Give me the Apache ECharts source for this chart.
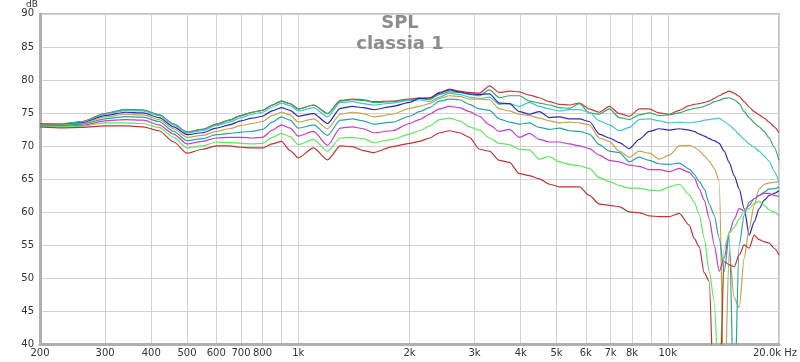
<!DOCTYPE html>
<html>
<head>
<meta charset="utf-8">
<script src="https://cdn.jsdelivr.net/npm/echarts@6/dist/echarts.min.js"></script>
<style>
  html, body { margin: 0; padding: 0; background: #ffffff; }
  #chart { width: 800px; height: 362px; }
</style>
</head>
<body>
<div id="chart"></div>
<script>
// Frequencies (Hz)
const freqs = [200,230,260,300,340,380,420,460,500,550,600,650,700,750,800,850,900,950,1000,1100,1200,1300,1400,1500,1600,1800,2000,
  2128,2265,2411,2565,2730,2906,3092,3291,3502,3727,3967,4222,4493,4781,5089,5416,5764,6134,6528,6947,7393,7868,8374,8912,9484,10093,10742,11432,
  11793,12166,12551,12948,13357,13780,14215,14665,15128,15607,16100,16609,17134,17676,18235,18811,19406,20000];

// SPL curves (dB)
const curve1 = [73.4,73.3,73.7,74.9,75.5,75.4,74.7,73.3,72.1,72.5,73.3,73.9,74.6,75.1,75.4,76.2,76.8,76.4,75.6,76.2,74.9,76.9,77.1,77.0,76.7,76.8,77.1,
  77.3,77.1,78.1,78.6,78.3,78.1,78.0,79.1,78.1,78.3,78.2,77.7,77.3,76.7,76.3,76.2,76.5,75.6,75.1,76.0,74.9,74.5,75.6,75.6,75.0,74.8,75.4,76.1,
  76.3,76.4,76.6,76.8,77.2,77.6,78.0,78.3,78.0,77.5,76.7,75.9,75.2,74.7,74.2,73.6,72.9,72.0];
const curve2 = [73.4,73.35,73.7,74.9,75.55,75.45,74.75,73.3,72.1,72.5,73.25,73.9,74.6,75.1,75.4,76.2,76.8,76.4,75.6,76.2,74.9,76.8,77.0,76.9,76.6,76.7,77.0,
  77.2,77.0,77.8,78.2,78.1,77.8,77.6,78.5,77.3,77.6,77.6,76.8,76.5,76.2,75.8,75.7,76.4,75.0,74.8,75.6,74.3,74.0,74.7,75.0,74.6,74.7,75.0,75.5,
  75.7,75.8,76.0,76.3,76.7,76.9,77.2,77.3,77.0,76.4,75.2,74.3,73.5,72.9,72.2,71.2,69.8,67.8];
const curve3 = [73.35,73.3,73.6,74.8,75.35,75.3,74.6,73.2,71.95,72.3,73.1,73.6,74.3,74.8,75.1,75.9,76.5,76.1,75.3,75.8,74.4,76.6,76.7,76.4,76.2,76.5,76.9,
  77.0,76.7,77.4,78.0,77.8,77.4,77.2,77.4,76.3,76.4,76.0,76.6,76.0,75.6,75.3,75.5,75.5,75.1,73.8,73.2,72.3,72.8,74.0,74.1,73.8,73.5,73.6,73.5,
  73.6,73.7,73.9,74.0,74.1,74.2,73.7,73.2,72.5,71.7,71.0,70.3,69.8,69.2,68.5,67.7,66.2,64.5];
const curve4 = [73.3,73.25,73.5,74.6,75.1,75.0,74.3,72.9,71.7,72.0,72.7,73.2,73.8,74.2,74.5,75.3,75.8,75.4,74.5,74.9,73.4,75.7,76.0,75.8,75.5,76.0,76.6,
  77.2,77.3,78.0,78.5,78.2,77.9,77.8,77.9,76.5,76.4,75.2,74.8,75.2,74.3,74.4,74.1,74.1,73.7,71.8,71.2,70.5,69.6,71.0,72.2,72.6,72.4,72.6,72.4,
  72.2,71.8,71.5,71.1,70.8,70.4,69.2,67.5,65.5,63.5,60.5,56.5,58.5,60.5,61.8,62.5,62.8,63.2];
const curve5 = [73.25,73.2,73.4,74.4,74.8,74.7,74.0,72.6,71.3,71.6,72.2,72.6,73.1,73.4,73.7,74.6,75.1,74.7,73.6,74.1,72.6,74.8,75.1,74.9,74.4,74.8,75.7,
  76.0,76.4,77.2,77.6,77.5,77.1,77.1,77.0,75.6,75.3,74.8,74.6,74.2,73.8,73.5,73.6,73.5,73.2,71.2,70.7,69.2,68.3,69.2,68.9,68.0,68.6,70.0,70.1,
  69.8,69.3,68.5,67.7,66.6,64.7,30,54,47,45.5,53,57.5,61,63.5,64.2,64.4,64.5,64.6];
const curve6 = [73.2,73.1,73.3,74.1,74.45,74.35,73.7,72.2,70.8,71.1,71.7,71.9,72.1,72.2,72.5,73.6,74.4,73.9,72.7,73.2,71.6,73.9,74.1,73.8,73.3,73.6,74.5,
  75.2,75.8,76.8,77.1,77.0,76.3,75.6,75.4,74.1,73.6,73.3,73.5,72.8,72.5,72.7,72.3,72.2,71.8,70.2,69.2,69.0,67.6,68.3,67.8,67.3,67.2,67.4,66.5,
  65.7,64.6,63.5,61.2,59.5,56.0,51.0,56.5,30,55.0,59.5,61.5,62.0,62.5,63.0,63.5,63.5,63.8];
const curve7 = [73.1,73.0,73.1,73.8,74.0,73.9,73.2,71.8,70.3,70.7,71.2,71.3,71.3,71.2,71.3,72.4,73.2,72.7,71.5,72.2,70.1,72.7,72.9,72.6,72.0,72.3,73.4,
  74.0,74.8,75.6,76.0,75.8,75.2,74.5,73.2,72.2,72.5,71.3,71.9,71.0,70.6,70.6,70.3,70.0,69.6,68.6,67.8,67.6,67.1,66.9,66.4,66.4,66.1,66.6,66.0,
  65.2,63.5,61.8,59.0,55.0,51.0,53.0,56.9,58.9,60.5,60.2,61.0,62.0,62.5,62.8,62.8,62.5,62.3];
const curve8 = [73.0,72.9,73.0,73.5,73.5,73.4,72.8,71.3,69.7,70.0,70.6,70.5,70.4,70.3,70.4,71.3,71.9,71.4,70.2,71.0,69.2,71.2,71.3,71.1,70.5,71.0,71.8,
  72.3,73.0,74.0,74.2,73.8,72.9,72.4,71.2,70.4,70.2,69.5,69.4,68.0,68.4,67.6,67.2,67.0,66.6,65.2,64.6,64.0,63.6,63.6,63.3,63.2,63.8,64.2,62.6,
  61.5,59.6,56.0,51.0,46.5,32,54.5,56.8,57.7,58.9,60.3,60.5,61.3,61.6,61.0,60.3,60.0,59.4];
const curve9 = [72.9,72.75,72.8,73.05,73.05,72.9,72.3,70.6,68.9,69.5,70.0,70.0,69.8,69.7,69.7,70.3,70.7,69.3,68.2,69.7,67.9,70.0,69.9,69.3,69.0,69.9,70.4,
  70.7,71.2,72.0,72.3,72.0,71.3,69.5,69.2,67.8,67.5,65.8,65.5,65.0,64.2,63.8,63.8,63.8,62.5,61.2,61.0,60.8,60.0,59.9,59.4,59.3,59.3,59.8,58.0,
  56.0,54.7,50.8,49.5,30,30,52.5,52.0,51.7,53.5,55.0,54.5,56.5,55.8,55.5,55.3,54.5,53.5];

const curves = [curve1, curve2, curve3, curve4, curve5, curve6, curve7, curve8, curve9];
const colors = ['#c43c3c', '#3aa66c', '#42c6cc', '#2c2cb0', '#c9a052', '#2ca2a2', '#c23fc8', '#60e660', '#bf3535'];

// Axis ticks / labels
const xGridValues = [200,300,400,500,600,700,800,900,1000,2000,3000,4000,5000,6000,7000,8000,9000,10000,20000];
const xLabelValues = [200,300,400,500,600,700,800,1000,2000,3000,4000,5000,6000,7000,8000,10000,20000];
const xLabelText = {200:'200',300:'300',400:'400',500:'500',600:'600',700:'700',800:'800',1000:'1k',2000:'2k',3000:'3k',4000:'4k',5000:'5k',6000:'6k',7000:'7k',8000:'8k',10000:'10k',20000:'{e|20.0k Hz}'};

const chart = echarts.init(document.getElementById('chart'), null, { renderer: 'canvas' });

const series = curves.map((c, i) => ({
  type: 'line',
  name: 'c' + (i + 1),
  data: freqs.map((f, j) => [f, c[j]]),
  showSymbol: false,
  symbol: 'none',
  smooth: 0.25,
  smoothMonotone: 'x',
  clip: true,
  lineStyle: { color: colors[i], width: 1.2 },
  itemStyle: { color: colors[i] },
  z: 3,
  animation: false
}));

const fontFamily = '"DejaVu Sans", sans-serif';

chart.setOption({
  animation: false,
  backgroundColor: '#ffffff',
  title: [
    { text: 'SPL', left: 'center', top: 9, textStyle: { fontFamily: fontFamily, fontSize: 18, fontWeight: 'bold', color: '#8c8c8c' } },
    { text: 'classia 1', left: 'center', top: 30, textStyle: { fontFamily: fontFamily, fontSize: 18, fontWeight: 'bold', color: '#8c8c8c' } }
  ],
  grid: {
    left: 40, right: 20, top: 12, bottom: 18,
    show: true, borderColor: '#c4c4c4', borderWidth: 2, backgroundColor: 'transparent'
  },
  xAxis: {
    type: 'log',
    logBase: 10,
    min: 200,
    max: 20000,
    axisLine: { show: true, onZero: false, lineStyle: { color: '#b0b0b0', width: 3 } },
    axisTick: { show: false, customValues: xGridValues },
    splitLine: { show: true, lineStyle: { color: '#d2d2d2', width: 1 } },
    minorSplitLine: { show: false },
    axisLabel: {
      customValues: xLabelValues,
      formatter: v => xLabelText[Math.round(v)] || '',
      fontFamily: fontFamily, fontSize: 10, color: '#333', margin: 4,
      rich: { e: { fontFamily: fontFamily, fontSize: 10, color: '#333', padding: [0, 8, 0, 0] } }
    }
  },
  yAxis: {
    type: 'value',
    min: 40, max: 90, interval: 5,
    name: 'dB',
    nameLocation: 'end',
    nameGap: 1,
    nameTextStyle: { fontFamily: fontFamily, fontSize: 9, color: '#333', align: 'right', padding: [0, 2, 0, 0] },
    axisLine: { show: true, lineStyle: { color: '#b0b0b0', width: 3 } },
    axisTick: { show: false },
    splitLine: { show: true, lineStyle: { color: '#d2d2d2', width: 1 } },
    axisLabel: { fontFamily: fontFamily, fontSize: 10, color: '#333', margin: 6 }
  },
  series: series
});
</script>
</body>
</html>
